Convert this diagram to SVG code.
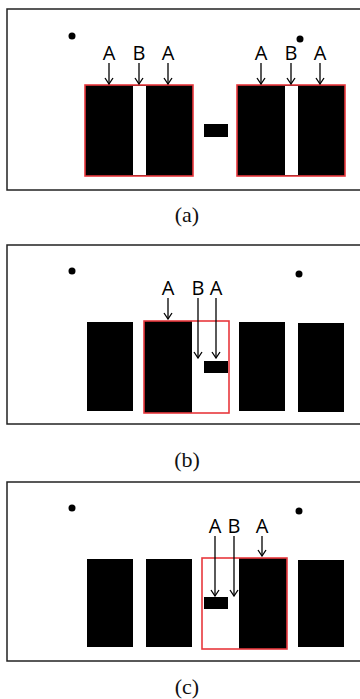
<svg xmlns="http://www.w3.org/2000/svg" width="360" height="699" viewBox="0 0 360 699">
<defs>
<marker id="ah" viewBox="-8 -5 9 10" refX="0" refY="0" markerWidth="9" markerHeight="10" markerUnits="userSpaceOnUse" orient="auto">
<path d="M-6,-4 L0,0 L-6,4" fill="none" stroke="#000" stroke-width="1.3"/>
</marker>
<style>
.frame{fill:none;stroke:#222;stroke-width:1.5}
.blk{fill:#000}
.red{fill:none;stroke:#e8383d;stroke-width:1.6}
.dot{fill:#000}
.lbl{font-family:"Open Sans","DejaVu Sans",sans-serif;font-size:20px;fill:#000;text-anchor:middle}
.cap{font-family:"Liberation Serif","Times New Roman",serif;font-size:22px;fill:#111;text-anchor:middle}
.arr{stroke:#000;stroke-width:1.3;fill:none;marker-end:url(#ah)}
</style>
</defs>

<g id="panel-a">
<rect class="frame" x="7" y="9" width="360" height="181"/>
<circle class="dot" cx="72" cy="36" r="3.5"/>
<circle class="dot" cx="300" cy="39" r="3.5"/>
<g id="a-left">
<rect class="blk" x="85" y="85" width="108" height="91"/>
<rect x="133" y="86" width="13" height="89" fill="#fff"/>
<rect class="red" x="85" y="85" width="108" height="91"/>
</g>
<rect id="a-dash" class="blk" x="204" y="124" width="24" height="13"/>
<g id="a-right">
<rect class="blk" x="237" y="85" width="108" height="91"/>
<rect x="285" y="86" width="13" height="89" fill="#fff"/>
<rect class="red" x="237" y="85" width="108" height="91"/>
</g>
<text class="lbl" x="109" y="60">A</text>
<text class="lbl" x="139" y="60">B</text>
<text class="lbl" x="168" y="60">A</text>
<text class="lbl" x="261" y="60">A</text>
<text class="lbl" x="291" y="60">B</text>
<text class="lbl" x="320" y="60">A</text>
</g>
<text class="cap" x="187" y="222">(a)</text>

<g id="panel-b">
<rect class="frame" x="7" y="245" width="360" height="179"/>
<circle class="dot" cx="72" cy="271" r="3.5"/>
<circle class="dot" cx="299" cy="274" r="3.5"/>
<rect id="b-r1" class="blk" x="87" y="322" width="46" height="89"/>
<g id="b-box">
<rect class="blk" x="144" y="321" width="48" height="92"/>
<rect class="red" x="144" y="321" width="85" height="92"/>
</g>
<rect id="b-small" class="blk" x="204" y="361" width="24" height="12"/>
<rect id="b-r3" class="blk" x="239" y="322" width="46" height="89"/>
<rect id="b-r4" class="blk" x="298" y="323" width="46" height="89"/>
<text class="lbl" x="168" y="295">A</text>
<text class="lbl" x="198" y="295">B</text>
<text class="lbl" x="216" y="295">A</text>
</g>
<text class="cap" x="187" y="467">(b)</text>

<g id="panel-c">
<rect class="frame" x="7" y="482" width="360" height="179"/>
<circle class="dot" cx="72" cy="508" r="3.5"/>
<circle class="dot" cx="299" cy="511" r="3.5"/>
<rect id="c-r1" class="blk" x="87" y="559" width="46" height="88"/>
<rect id="c-r2" class="blk" x="146" y="559" width="46" height="88"/>
<g id="c-box">
<rect class="blk" x="239" y="558" width="48" height="91"/>
<rect class="red" x="202" y="558" width="85" height="91"/>
</g>
<rect id="c-small" class="blk" x="204" y="597" width="24" height="12"/>
<rect id="c-r4" class="blk" x="298" y="560" width="46" height="87"/>
<text class="lbl" x="215" y="533">A</text>
<text class="lbl" x="234" y="533">B</text>
<text class="lbl" x="262" y="533">A</text>
</g>
<text class="cap" x="187" y="694">(c)</text>

<g id="connectors">
<line class="arr" x1="109" y1="63" x2="109" y2="84"/>
<line class="arr" x1="139" y1="63" x2="139" y2="84"/>
<line class="arr" x1="168" y1="63" x2="168" y2="84"/>
<line class="arr" x1="261" y1="63" x2="261" y2="84"/>
<line class="arr" x1="291" y1="63" x2="291" y2="84"/>
<line class="arr" x1="320" y1="63" x2="320" y2="84"/>
<line class="arr" x1="168" y1="298" x2="168" y2="319"/>
<line class="arr" x1="198" y1="298" x2="198" y2="358"/>
<line class="arr" x1="216" y1="298" x2="216" y2="358"/>
<line class="arr" x1="215" y1="536" x2="215" y2="596"/>
<line class="arr" x1="234" y1="536" x2="234" y2="596"/>
<line class="arr" x1="262" y1="536" x2="262" y2="556"/>
</g>
</svg>
